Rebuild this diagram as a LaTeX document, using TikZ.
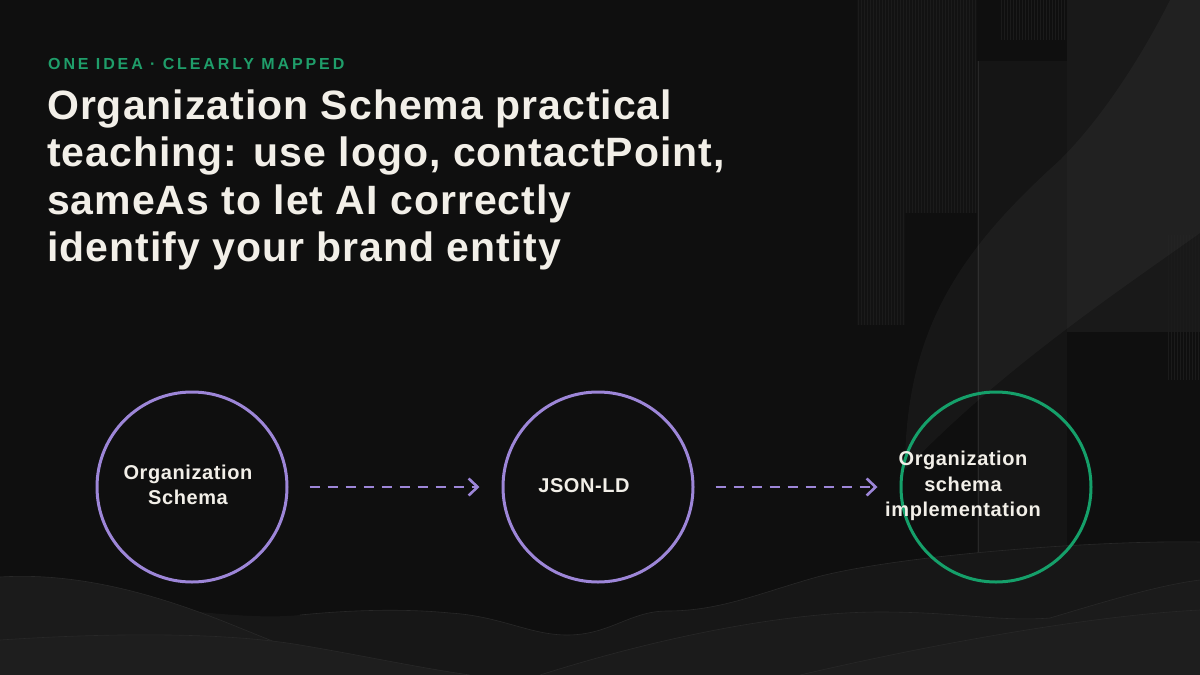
\documentclass[tikz,border=0pt]{standalone}
\usepackage{fontspec}
\setmainfont{Liberation Sans}
\newfontfamily\titlefont[LetterSpace=2.4]{Liberation Sans}
\newfontfamily\kickerfont[LetterSpace=18]{Liberation Sans}
\newfontfamily\labelfont[LetterSpace=3]{Liberation Sans}
\usetikzlibrary{arrows.meta}
\definecolor{bgc}{HTML}{0F0F0F}
\definecolor{ink}{HTML}{F2EFE8}
\definecolor{kick}{HTML}{1F9E6A}
\definecolor{lav}{HTML}{9D86D8}
\definecolor{grn}{HTML}{15A06A}
\definecolor{dk1}{HTML}{121212}
\definecolor{dk2}{HTML}{151515}
\definecolor{dk3}{HTML}{191919}
\definecolor{strp}{HTML}{1B1B1B}
\definecolor{wv1}{HTML}{171717}
\definecolor{wv2}{HTML}{1B1B1B}
\definecolor{wv3}{HTML}{1E1E1E}
\definecolor{wedge}{HTML}{282828}
\tikzset{
  stripe/.style={strp, line width=0.7pt},
  wave/.style={draw=wedge, line width=0.6pt},
  bubble/.style={circle, draw=lav, line width=3pt, minimum size=190pt, inner sep=0pt},
  goalbubble/.style={bubble, draw=grn},
  lbl/.style={text=ink, align=center, inner sep=0pt, font=\labelfont\bfseries\fontsize{20}{25.5}\selectfont},
  flow/.style={draw=lav, line width=2.6pt, dash pattern=on 10pt off 8pt,
    -{Straight Barb[length=9pt,width=17pt]}, shorten <=21pt, shorten >=22pt}
}
\begin{document}
\begin{tikzpicture}[x=1pt,y=-1pt]
\useasboundingbox (0,0) rectangle (1200,675);
\fill[bgc] (0,0) rectangle (1200,675);
% top-right decoration
\fill[dk1] (857,0) rectangle (905,325);
\foreach \x in {858,861,...,904} \draw[stripe] (\x,0) -- (\x,325);
\fill[dk1] (905,0) rectangle (977,213);
\foreach \x in {906,909,...,976} \draw[stripe] (\x,0) -- (\x,213);
\fill[dk2] (977,61) rectangle (1067,675);
\draw[wedge, line width=0.8pt] (978.5,61) -- (978.5,560);
\foreach \x in {1001,1004,...,1066} \draw[stripe] (\x,0) -- (\x,40);
\fill[dk3] (1067,0) rectangle (1200,332);
\foreach \x in {1168,1171,...,1199} \draw[stripe] (\x,235) -- (\x,380);
\fill[white, opacity=0.035] (1170,0) -- (1200,0) -- (1200,233)
  .. controls (1120,290) and (1000,370) .. (905,470)
  .. controls (905,330) and (960,250) .. (1060,160)
  .. controls (1110,110) and (1150,40) .. (1170,0) -- cycle;
% bottom waves
\fill[wv1] (0,675) -- (0,600) .. controls (150,600) and (230,622) .. (300,615)
  .. controls (370,608) and (420,610) .. (450,613)
  .. controls (500,616) and (530,635) .. (567,635)
  .. controls (610,635) and (630,611) .. (667,611)
  .. controls (720,611) and (760,593) .. (817,577)
  .. controls (900,555) and (1100,540) .. (1200,542) -- (1200,675) -- cycle;
\draw[wave] (300,615) .. controls (370,608) and (420,610) .. (450,613)
  .. controls (500,616) and (530,635) .. (567,635)
  .. controls (610,635) and (630,611) .. (667,611)
  .. controls (720,611) and (760,593) .. (817,577)
  .. controls (900,555) and (1100,540) .. (1200,542);
\fill[wv2] (0,675) -- (0,577) .. controls (80,572) and (160,595) .. (240,628)
  .. controls (290,648) and (330,665) .. (370,675) -- cycle;
\draw[wave] (0,577) .. controls (80,572) and (160,595) .. (240,628)
  .. controls (290,648) and (330,665) .. (370,675);
\fill[wv3] (0,675) -- (0,640) .. controls (120,632) and (230,633) .. (300,645)
  .. controls (360,655) and (420,668) .. (470,675) -- cycle;
\draw[wave] (0,640) .. controls (120,632) and (230,633) .. (300,645)
  .. controls (360,655) and (420,668) .. (470,675);
\fill[wv2] (540,675) .. controls (650,640) and (780,612) .. (880,612)
  .. controls (960,612) and (1000,622) .. (1050,618)
  .. controls (1110,600) and (1160,585) .. (1200,580) -- (1200,675) -- cycle;
\draw[wave] (540,675) .. controls (650,640) and (780,612) .. (880,612)
  .. controls (960,612) and (1000,622) .. (1050,618)
  .. controls (1110,600) and (1160,585) .. (1200,580);
\fill[wv3] (800,675) .. controls (950,640) and (1100,615) .. (1200,610) -- (1200,675) -- cycle;
\draw[wave] (800,675) .. controls (950,640) and (1100,615) .. (1200,610);
% header
\node[anchor=base west, inner sep=0pt, text=kick, font=\kickerfont\bfseries\fontsize{16}{19}\selectfont] (kicker) at (48,69) {ONE IDEA · CLEARLY MAPPED};
\node[anchor=north west, inner sep=0pt, text=ink, align=left, font=\titlefont\bfseries\fontsize{41}{47.5}\selectfont] (title) at (47,89.5)
  {Organization Schema practical\\teaching: use logo, contactPoint,\\sameAs to let AI correctly\\identify your brand entity};
% flow
\node[bubble] (c1) at (192,487) {};
\node[bubble] (c2) at (598,487) {};
\node[goalbubble] (c3) at (996,487) {};
\node[lbl] (t1) at (188,485) {Organization\\Schema};
\node[lbl] (t2) at (584,486) {JSON-LD};
\node[lbl] (t3) at (963,486) {Organization\\schema\\implementation};
\draw[flow] (c1) -- (c2);
\draw[flow] (c2) -- (c3);
\end{tikzpicture}
\end{document}
